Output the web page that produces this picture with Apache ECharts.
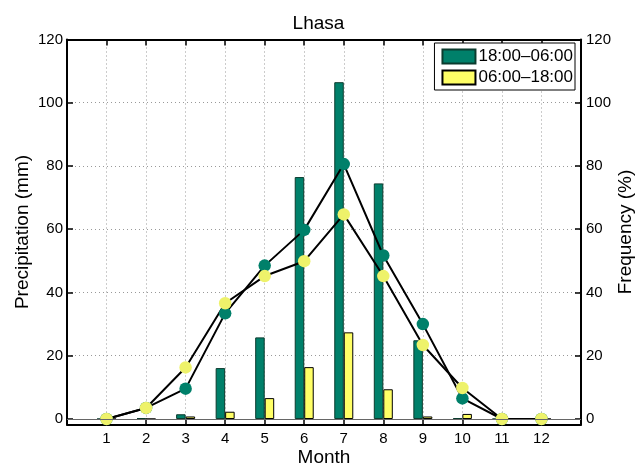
<!DOCTYPE html>
<html>
<head>
<meta charset="utf-8">
<script src="https://cdn.jsdelivr.net/npm/echarts@6/dist/echarts.min.js"></script>
<style>
html,body{margin:0;padding:0;background:#fff;}
#main{width:637px;height:466px;}
</style>
</head>
<body>
<div id="main"></div>
<script>
var months=[1,2,3,4,5,6,7,8,9,10,11,12];
// precipitation (mm), left axis
var rainNight=[0,0.3,1.5,16.1,25.8,76.5,106.5,74.5,24.9,0.3,0,0];
var rainDay=[0,0,0.8,2.3,6.6,16.4,27.4,9.4,0.8,1.6,0,0];
// frequency (%), right axis
var freqNight=[0,3.5,9.6,33.4,48.5,59.8,80.6,51.7,30.0,6.5,0,0];
var freqDay=[0,3.5,16.3,36.6,45.2,49.9,64.7,45.2,23.4,9.8,0,0];
var yTicks=[0,20,40,60,80,100,120];

var GREEN='#00806a',YELLOW='#ffff66',YMARK='#eef26a';
var FONT='Liberation Sans';

function pairs(v){return months.map(function(m,i){return [m,v[i]];});}

var myChart=echarts.init(document.getElementById('main'));

// ticks point into the plot, like matlab
var tick={inside:true,length:6,lineStyle:{color:'#000',width:1.5}};

var option={
  animation:false,
  textStyle:{fontFamily:FONT,color:'#000'},
  title:{text:'Lhasa',left:'center',top:9,textStyle:{fontFamily:FONT,fontSize:19,fontWeight:'normal',color:'#000'}},
  grid:{left:67,right:56,top:39.5,bottom:41.5,containLabel:false,outerBoundsMode:'none'},
  legend:{
    right:62,top:43,orient:'vertical',
    itemWidth:33,itemHeight:14,itemGap:4,
    padding:[5,2,4,7],
    backgroundColor:'#fff',borderColor:'#000',borderWidth:1,borderRadius:0,
    textStyle:{fontFamily:FONT,fontSize:17,color:'#000',padding:[0,0,0,-2]},
    data:[{name:'18:00–06:00',icon:'rect'},{name:'06:00–18:00',icon:'rect'}]
  },
  xAxis:[{
    type:'value',min:0,max:13,interval:1,
    name:'Month',nameLocation:'middle',nameGap:24,nameMoveOverlap:false,
    nameTextStyle:{fontFamily:FONT,fontSize:19,color:'#000'},
    axisLine:{onZero:false,lineStyle:{color:'#000',width:2}},
    axisTick:tick,
    axisLabel:{fontFamily:FONT,fontSize:15,color:'#000',margin:7,
      formatter:function(v){return (v>=1&&v<=12)?String(v):'';}},
    splitLine:{show:true,lineStyle:{color:'#999',type:[1,3],width:1}}
  },{
    type:'value',min:0,max:13,interval:1,position:'top',
    axisLine:{onZero:false,lineStyle:{color:'#000',width:2}},
    axisTick:tick,
    axisLabel:{show:false},splitLine:{show:false}
  }],
  yAxis:[{
    type:'value',min:-1.74,max:120,position:'left',
    name:'Precipitation (mm)',nameLocation:'middle',nameGap:35,nameMoveOverlap:false,
    nameTextStyle:{fontFamily:FONT,fontSize:19,color:'#000'},
    axisLine:{show:true,onZero:false,lineStyle:{color:'#000',width:2}},
    axisTick:Object.assign({customValues:yTicks},tick),
    axisLabel:{fontFamily:FONT,fontSize:15,color:'#000',margin:4,customValues:yTicks},
    splitLine:{show:true,lineStyle:{color:'#999',type:[1,3],width:1}}
  },{
    type:'value',min:-1.74,max:120,position:'right',
    name:'Frequency (%)',nameLocation:'middle',nameGap:35,nameMoveOverlap:false,
    nameTextStyle:{fontFamily:FONT,fontSize:19,color:'#000'},
    axisLine:{show:true,onZero:false,lineStyle:{color:'#000',width:2}},
    axisTick:Object.assign({customValues:yTicks},tick),
    axisLabel:{fontFamily:FONT,fontSize:15,color:'#000',margin:5,customValues:yTicks},
    splitLine:{show:false}
  }],
  series:[{
    name:'18:00–06:00',type:'bar',xAxisIndex:0,yAxisIndex:0,
    barWidth:9.5,barGap:'0%',
    itemStyle:{color:GREEN,borderColor:'#0b3b2e',borderWidth:1},
    markLine:{silent:true,symbol:'none',label:{show:false},
      lineStyle:{color:'#666',type:'solid',width:1},data:[{yAxis:0}]},
    data:pairs(rainNight)
  },{
    name:'06:00–18:00',type:'bar',xAxisIndex:0,yAxisIndex:0,
    barWidth:9.5,barGap:'0%',
    itemStyle:{color:YELLOW,borderColor:'#000',borderWidth:1},
    data:pairs(rainDay)
  },{
    name:'freqNight',type:'line',xAxisIndex:0,yAxisIndex:1,
    symbol:'circle',symbolSize:12.5,
    itemStyle:{color:GREEN},lineStyle:{color:'#000',width:2},
    data:pairs(freqNight)
  },{
    name:'freqDay',type:'line',xAxisIndex:0,yAxisIndex:1,
    symbol:'circle',symbolSize:12.5,
    itemStyle:{color:YMARK},lineStyle:{color:'#000',width:2},
    data:pairs(freqDay)
  }]
};

myChart.setOption(option);
</script>
</body>
</html>
